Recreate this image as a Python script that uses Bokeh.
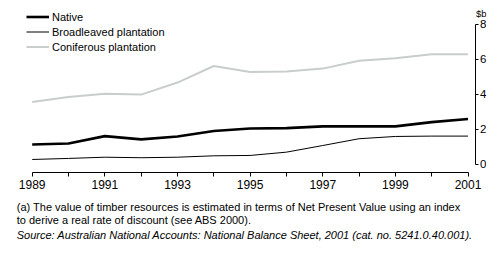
from bokeh.plotting import figure
from bokeh.models import (FixedTicker, Legend, LegendItem, Label, Range1d, ColumnDataSource)
from bokeh.layouts import column
from bokeh.embed import file_html
from bokeh.resources import INLINE

years = [1989, 1990, 1991, 1992, 1993, 1994, 1995, 1996, 1997, 1998, 1999, 2000, 2001]
native = [1.12, 1.18, 1.60, 1.41, 1.58, 1.89, 2.04, 2.06, 2.16, 2.16, 2.16, 2.40, 2.58]
broadleaved = [0.26, 0.32, 0.39, 0.36, 0.39, 0.47, 0.49, 0.68, 1.06, 1.45, 1.58, 1.60, 1.60]
coniferous = [3.55, 3.84, 4.03, 3.98, 4.67, 5.62, 5.28, 5.30, 5.47, 5.92, 6.06, 6.29, 6.30]
series_names = ["Native", "Broadleaved plantation", "Coniferous plantation"]
y_ticks = [0, 2, 4, 6, 8]
x_label_years = [1989, 1991, 1993, 1995, 1997, 1999, 2001]
unit_label = "$b"
note_lines = [
    "(a) The value of timber resources is estimated in terms of Net Present Value using an index",
    "to derive a real rate of discount (see ABS 2000).",
]
source_line = "Source: Australian National Accounts: National Balance Sheet, 2001 (cat. no. 5241.0.40.001)."

FONT = "Liberation Sans"
Y_AXIS_X = 2001.193

src = ColumnDataSource(dict(year=years, native=native, broad=broadleaved, conif=coniferous))

p = figure(width=499, height=194, output_backend="svg", toolbar_location=None,
           x_range=Range1d(1988.127, 2001.509), y_range=Range1d(-0.487, 9.376),
           y_axis_location="right", min_border_left=0, min_border_right=13,
           min_border_top=0, min_border_bottom=22)
p.outline_line_color = None
p.xgrid.grid_line_color = None
p.ygrid.grid_line_color = None
p.background_fill_color = "white"
p.border_fill_color = "white"

r_con = p.line("year", "conif", source=src, line_color="#c8cecb", line_width=2)
r_nat = p.line("year", "native", source=src, line_color="black", line_width=2.6)
r_brd = p.line("year", "broad", source=src, line_color="black", line_width=1)

xa = p.xaxis[0]
xa.ticker = FixedTicker(ticks=years)
xa.major_label_overrides = {y: (str(y) if y in x_label_years else "") for y in years}
xa.bounds = (1989, 2001)
xa.major_tick_in = 0
xa.major_tick_out = 4
xa.minor_tick_in = 0
xa.minor_tick_out = 0
xa.minor_tick_line_color = None
xa.axis_line_color = "black"
xa.major_tick_line_color = "black"
xa.major_label_text_font = FONT
xa.major_label_text_font_size = "12px"
xa.major_label_text_color = "black"
xa.major_label_standoff = 3

ya = p.yaxis[0]
ya.ticker = FixedTicker(ticks=y_ticks)
ya.bounds = (0, 8)
ya.fixed_location = Y_AXIS_X
ya.major_tick_in = 0
ya.major_tick_out = 3
ya.minor_tick_in = 0
ya.minor_tick_out = 0
ya.minor_tick_line_color = None
ya.axis_line_color = "black"
ya.major_tick_line_color = "black"
ya.major_label_text_font = FONT
ya.major_label_text_font_size = "11.5px"
ya.major_label_text_color = "black"
ya.major_label_standoff = 2

legend = Legend(items=[LegendItem(label=series_names[0], renderers=[r_nat]),
                       LegendItem(label=series_names[1], renderers=[r_brd]),
                       LegendItem(label=series_names[2], renderers=[r_con])],
                location=(26, 118), padding=0, margin=0, spacing=0,
                glyph_width=23, glyph_height=15, label_height=15, label_standoff=3,
                label_text_font=FONT, label_text_font_size="11px",
                label_text_color="black", border_line_color=None,
                background_fill_alpha=0)
p.add_layout(legend, "center")

p.add_layout(Label(x=Y_AXIS_X, y=8, x_offset=1, y_offset=10.5, text=unit_label,
                   text_font=FONT, text_font_size="9.5px", text_color="black",
                   text_baseline="alphabetic", text_align="left"))

# footnote strip below the chart
fn = figure(width=499, height=63, output_backend="svg", toolbar_location=None,
            x_range=Range1d(0, 499), y_range=Range1d(257, 194),
            min_border_left=0, min_border_right=0, min_border_top=0, min_border_bottom=0)
fn.axis.visible = False
fn.grid.visible = False
fn.outline_line_color = None
fn.background_fill_color = "white"
fn.border_fill_color = "white"

note_y = [206.7, 219.3]
for t, yy in zip(note_lines, note_y):
    fn.add_layout(Label(x=16.7, y=yy, text=t, text_font=FONT, text_font_size="11px",
                        text_color="black", text_baseline="middle", text_align="left"))
fn.add_layout(Label(x=16.7, y=234.3, text=source_line, text_font=FONT, text_font_size="11px",
                    text_font_style="italic", text_color="black",
                    text_baseline="middle", text_align="left"))

layout = column(p, fn, spacing=0)
open("out.html", "w").write(file_html(layout, INLINE))
